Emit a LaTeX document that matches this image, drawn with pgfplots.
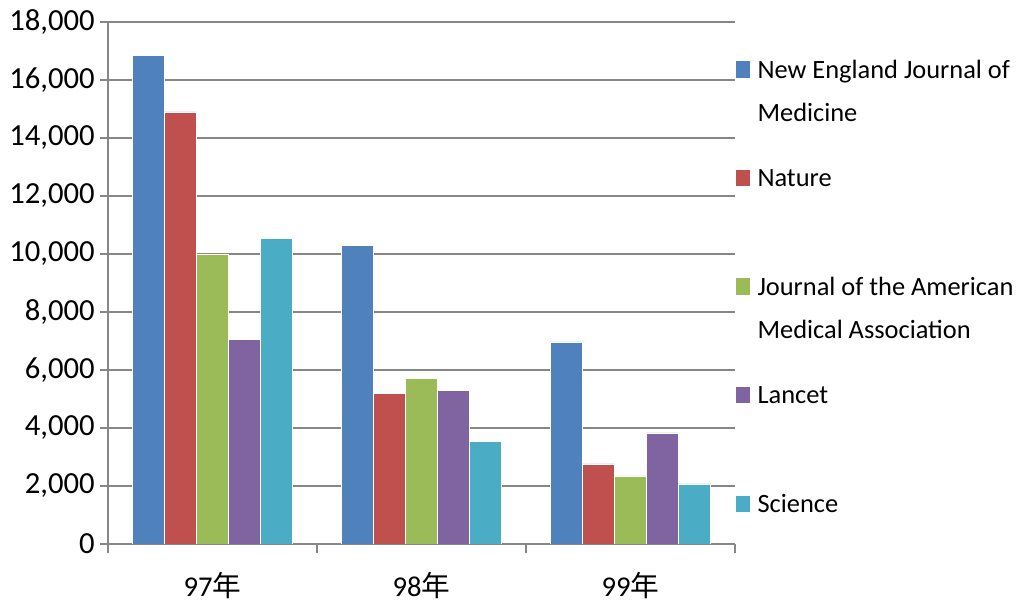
\documentclass[border=0pt]{standalone}
\usepackage{fontspec}
\setmainfont{Carlito}
\newfontfamily\cjk{Noto Sans CJK SC}
\usepackage{pgfplots}
\pgfplotsset{compat=1.18}
\definecolor{cBlue}{HTML}{4F81BD}
\definecolor{cRed}{HTML}{C0504D}
\definecolor{cGreen}{HTML}{9BBB59}
\definecolor{cPurple}{HTML}{8064A2}
\definecolor{cAqua}{HTML}{4BACC6}
\definecolor{gridgray}{HTML}{878787}
\newcommand\legfirst[1]{\raisebox{0pt}[15pt][0pt]{\begin{tabular}[t]{@{}l@{}}#1\end{tabular}}}
\newcommand\legtxt[1]{\raisebox{0pt}[79.9pt][0pt]{\begin{tabular}[t]{@{}l@{}}#1\end{tabular}}}
\begin{document}
\begin{tikzpicture}
\useasboundingbox (0,0) rectangle (762.75pt,453.75pt);
\begin{axis}[
  at={(81pt,45.75pt)}, anchor=south west,
  scale only axis, width=470.25pt, height=391.5pt,
  xmin=-0.5, xmax=2.5, ymin=0, ymax=18000,
  ytick={0,2000,...,18000},
  scaled y ticks=false,
  ybar=0pt, bar width=24pt,
  axis x line=bottom, axis y line=left,
  axis line style={-, draw=gridgray, line width=1.1pt},
  tick align=outside, xtick pos=bottom, ytick pos=left,
  ymajorgrids, grid style={draw=gridgray, line width=1.1pt},
  major tick length=6pt, minor tick length=7pt,
  ytick style={draw=gridgray, line width=1.1pt},
  xtick={0,1,2}, xticklabels={97{\cjk 年},98{\cjk 年},99{\cjk 年}},
  major x tick style={draw=none},
  minor xtick={-0.5,0.5,1.5,2.5},
  minor x tick style={draw=gridgray, line width=1.1pt},
  tick label style={text=black},
  yticklabel style={font=\fontsize{23}{27}\selectfont, /pgf/number format/1000 sep={,}, /pgf/number format/assume math mode=true, xshift=-0.5pt},
  xticklabel style={font=\fontsize{21.5}{26}\selectfont, yshift=-12pt},
  legend style={at={(1,0.931)}, anchor=north west, draw=none, fill=none,
    inner sep=0pt, outer sep=0pt, row sep=0pt, column sep=5.25pt,
    font=\fontsize{19.8}{32.5}\selectfont, nodes={inner sep=0pt, anchor=base west}},
  legend cell align=left,
  legend image code/.code={\fill[#1] (0pt,0pt) rectangle (11.25pt,13pt);},
]
\addplot[fill=cBlue, draw=white, line width=0.4pt] coordinates {(0,16850) (1,10300) (2,6970)};
\addplot[fill=cRed, draw=white, line width=0.4pt] coordinates {(0,14900) (1,5200) (2,2760)};
\addplot[fill=cGreen, draw=white, line width=0.4pt] coordinates {(0,10000) (1,5720) (2,2350)};
\addplot[fill=cPurple, draw=white, line width=0.4pt] coordinates {(0,7050) (1,5300) (2,3830)};
\addplot[fill=cAqua, draw=white, line width=0.4pt] coordinates {(0,10550) (1,3550) (2,2070)};
\addlegendentry{\legfirst{New England Journal of\\Medicine}}
\addlegendentry{\legtxt{Nature}}
\addlegendentry{\legtxt{Journal of the American\\Medical Association}}
\addlegendentry{\legtxt{Lancet}}
\addlegendentry{\legtxt{Science}}
\end{axis}
\end{tikzpicture}
\end{document}
